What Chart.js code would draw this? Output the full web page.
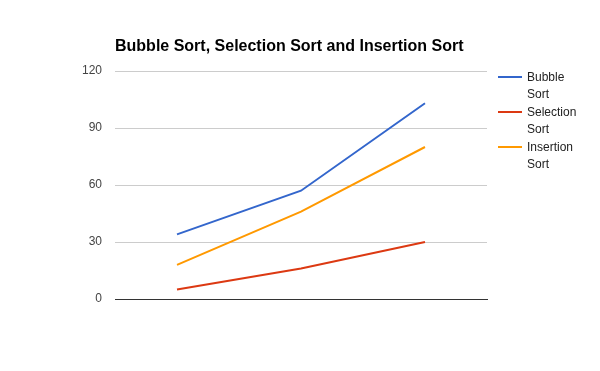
<!DOCTYPE html>
<html>
<head>
<meta charset="utf-8">
<script src="https://cdn.jsdelivr.net/npm/chart.js@4.4.0/dist/chart.umd.min.js"></script>
<style>
    html, body { margin: 0; padding: 0; background: #fff; }
</style>
</head>
<body>
<canvas id="sortChart" width="600" height="371"></canvas>
<script>
// data
const categories = ['1', '2', '3'];
const bubbleSort = [34, 57, 103];
const selectionSort = [5, 16, 30];
const insertionSort = [18, 46, 80];
const yTicks = [0, 30, 60, 90, 120];

const seriesNames = [['Bubble', 'Sort'], ['Selection', 'Sort'], ['Insertion', 'Sort']];
const seriesColors = ['#3366cc', '#dc3912', '#ff9900'];

// title + legend drawn by hand so they sit where google charts put them
const extrasPlugin = {
    id: 'extras',
    afterDraw(chart) {
        const ctx = chart.ctx;
        const area = chart.chartArea;
        ctx.save();
        ctx.fillStyle = '#000';
        ctx.font = 'bold 16px "Liberation Sans", Arial, sans-serif';
        ctx.textAlign = 'left';
        ctx.textBaseline = 'alphabetic';
        ctx.fillText('Bubble Sort, Selection Sort and Insertion Sort', area.left, 51);

        ctx.font = '12px "Liberation Sans", Arial, sans-serif';
        chart.data.datasets.forEach((ds, i) => {
            const y = 77 + i * 35;
            ctx.strokeStyle = ds.borderColor;
            ctx.lineWidth = 2;
            ctx.beginPath();
            ctx.moveTo(498, y);
            ctx.lineTo(522, y);
            ctx.stroke();
            ctx.fillStyle = '#222';
            seriesNames[i].forEach((line, j) => {
                ctx.fillText(line, 527, y + 4 + j * 17);
            });
        });
        ctx.restore();
    }
};

new Chart(document.getElementById('sortChart').getContext('2d'), {
    type: 'line',
    data: {
        labels: categories,
        datasets: [
            { label: 'Bubble Sort', data: bubbleSort, borderColor: seriesColors[0] },
            { label: 'Selection Sort', data: selectionSort, borderColor: seriesColors[1] },
            { label: 'Insertion Sort', data: insertionSort, borderColor: seriesColors[2] }
        ].map(ds => Object.assign(ds, {
            borderWidth: 2,
            pointRadius: 0,
            pointHoverRadius: 0,
            tension: 0,
            fill: false
        }))
    },
    options: {
        responsive: false,
        animation: false,
        devicePixelRatio: 1,
        layout: {
            padding: { left: 0, top: 71, right: 113, bottom: 72 }
        },
        scales: {
            x: {
                offset: true,
                grid: { display: false, drawTicks: false },
                border: { display: true, color: '#333', width: 1 },
                ticks: { display: false }
            },
            y: {
                min: 0,
                max: 120,
                afterBuildTicks: scale => {
                    scale.ticks = yTicks.map(v => ({ value: v }));
                },
                afterFit: scale => { scale.width = 115; },
                grid: { color: '#cccccc', drawTicks: false },
                border: { display: false },
                ticks: {
                    padding: 13,
                    color: '#444',
                    font: { family: '"Liberation Sans", Arial, sans-serif', size: 12 }
                }
            }
        },
        plugins: {
            legend: { display: false },
            tooltip: { enabled: false },
            title: { display: false }
        }
    },
    plugins: [extrasPlugin]
});
</script>
</body>
</html>
